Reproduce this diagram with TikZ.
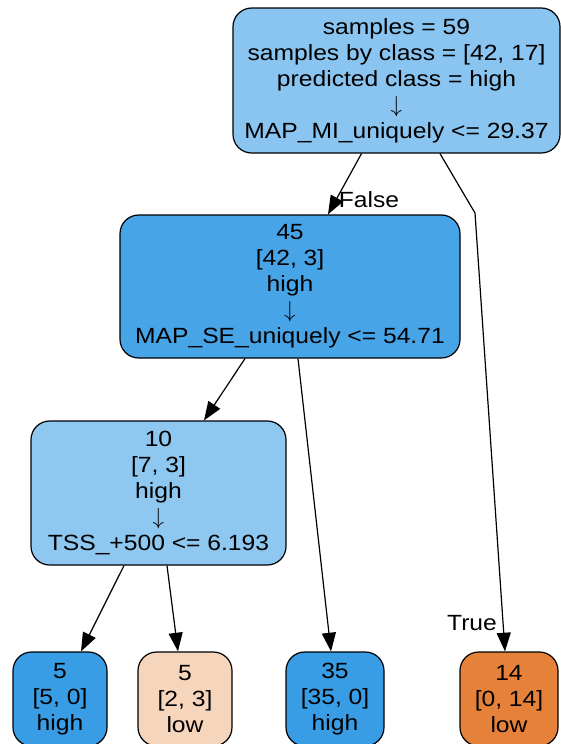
\documentclass[tikz,border=0pt]{standalone}
\usepackage{fontspec}
\setmainfont[FakeStretch=1.12]{Liberation Sans}
\usetikzlibrary{arrows.meta,calc}
\definecolor{rootfill}{HTML}{89C5F0}
\definecolor{midfill}{HTML}{47A4E7}
\definecolor{tenfill}{HTML}{8EC7F0}
\definecolor{highfill}{HTML}{399DE5}
\definecolor{lowfill}{HTML}{E58139}
\definecolor{mixfill}{HTML}{F6D5BD}
\begin{document}
\begin{tikzpicture}[x=0.75pt,y=-0.75pt,
  treebox/.style={draw=black, line width=0.9pt, rounded corners=14pt,
    align=center, inner sep=0pt, font=\fontsize{16.5}{19.5}\selectfont},
  leafbox/.style={treebox, minimum height=70.5pt},
  edge/.style={line width=0.9pt, -{Triangle[length=14pt,width=10.5pt]}},
  lbl/.style={font=\fontsize{16.5}{19.5}\selectfont, inner sep=0pt}]
\useasboundingbox (0,0) rectangle (561,744);

% decision nodes
\node[treebox, fill=rootfill, minimum width=245.25pt, minimum height=108.75pt]
  (root) at (396.5,80.5)
  {samples = 59\\samples by class = {[42, 17]}\\predicted class = high\\$\downarrow$\\MAP\_MI\_uniquely <= 29.37};
\node[treebox, fill=midfill, minimum width=255pt, minimum height=107.25pt]
  (n45) at (290,286.5)
  {45\\{[42, 3]}\\high\\$\downarrow$\\MAP\_SE\_uniquely <= 54.71};
\node[treebox, fill=tenfill, minimum width=191.25pt, minimum height=108pt]
  (n10) at (158.5,493)
  {10\\{[7, 3]}\\high\\$\downarrow$\\TSS\_+500 <= 6.193};

% leaves
\node[leafbox, fill=highfill, minimum width=70.5pt] (l1) at (60,699) {5\\{[5, 0]}\\high};
\node[leafbox, fill=mixfill, minimum width=70.5pt] (l2) at (185,699) {5\\{[2, 3]}\\low};
\node[leafbox, fill=highfill, minimum width=73.5pt] (l3) at (335,699) {35\\{[35, 0]}\\high};
\node[leafbox, fill=lowfill, minimum width=73.5pt] (l4) at (509,699) {14\\{[0, 14]}\\low};

% connectors
\coordinate (bend) at (475,213);
\draw[edge] ($(root.south)+(-35,0)$) -- ($(n45.north)+(38,0)$);
\draw[edge] ($(root.south)+(43.5,0)$) -- (bend) -- ($(l4.north)+(-4,0)$);
\draw[edge] ($(n45.south)+(-45,0)$) -- ($(n10.north)+(45.5,0)$);
\draw[edge] ($(n45.south)+(8,0)$) -- ($(l3.north)+(-4,0)$);
\draw[edge] ($(n10.south)+(-34.5,0)$) -- ($(l1.north)+(21,0)$);
\draw[edge] ($(n10.south)+(8.5,0)$) -- ($(l2.north)+(-7,0)$);

% branch labels
\node[lbl] (flabel) at (369,200) {False};
\node[lbl] (tlabel) at (472,623) {True};
\end{tikzpicture}
\end{document}
